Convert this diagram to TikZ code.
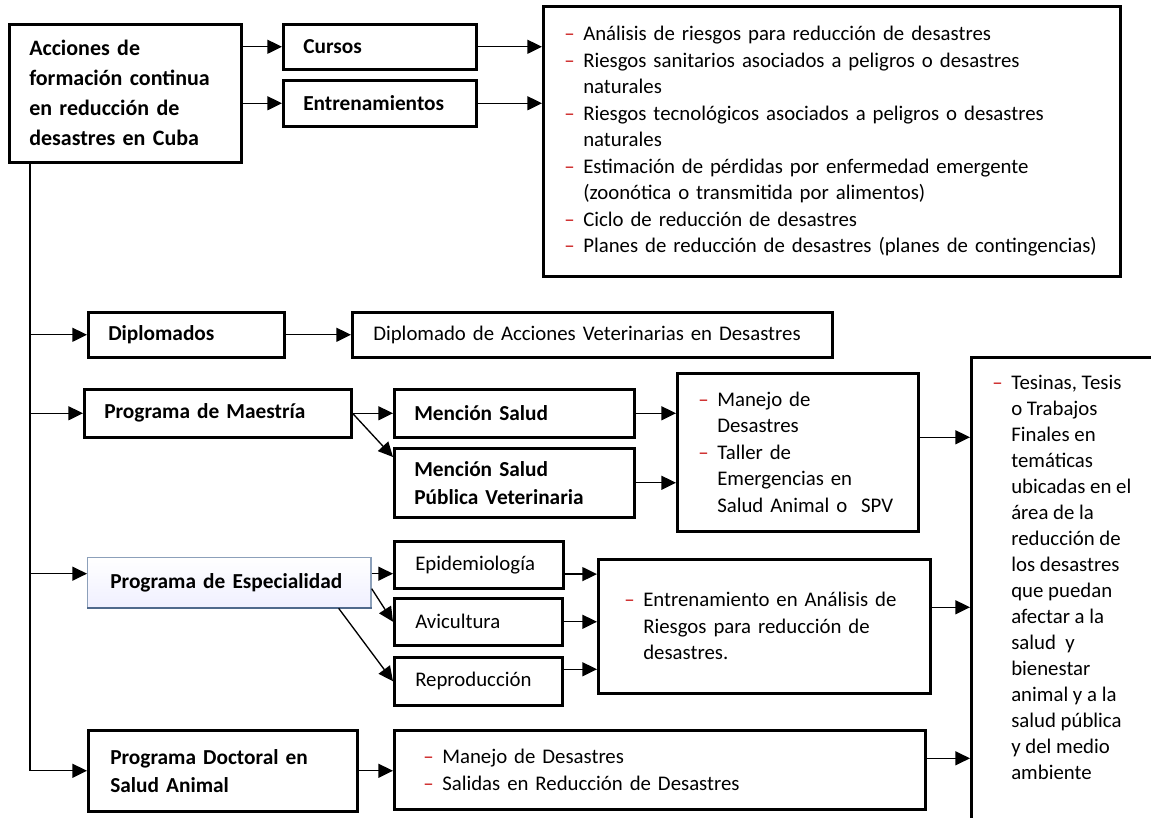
\documentclass[tikz,border=0pt]{standalone}
\usepackage{fontspec}
\setmainfont{Carlito}
\usetikzlibrary{arrows.meta}
\definecolor{guionrojo}{RGB}{200,20,20}
\definecolor{bordeazul}{RGB}{140,160,186}
\definecolor{sombraazul}{RGB}{79,105,140}
\newcommand{\guion}{\makebox[14.25pt][l]{\textcolor{guionrojo}{--}}}
\newcommand{\sigue}{\hspace*{14.25pt}}
\tikzset{
	caja/.style={draw, line width=1.9pt, anchor=north west, inner xsep=15pt, inner ysep=0pt, align=left,
		font=\fontsize{16}{21}\selectfont\bfseries},
	lista/.style={caja, inner xsep=15.75pt, font=\fontsize{15.6}{19.9}\selectfont},
	flecha/.style={-{Triangle[length=11pt,width=10.5pt]}, line width=1pt},
}
\begin{document}
\begin{tikzpicture}[x=0.75pt,y=-0.75pt]
	\useasboundingbox (0,0) rectangle (1151,817);
	% cajas
	\node[caja, minimum width=174pt, minimum height=103.5pt, text width=144pt,
		font=\fontsize{16.5}{22.5}\selectfont\bfseries] (acciones) at (8,23)
		{Acciones de\\formación continua\\en reducción de\\desastres en Cuba};
	\node[caja, minimum width=144.75pt, minimum height=33.75pt, text width=114.75pt] (cursos) at (282,23) {Cursos};
	\node[caja, minimum width=144.75pt, minimum height=34.5pt, text width=114.75pt] (entren) at (282,79) {Entrenamientos};
	\node[lista, minimum width=432.75pt, minimum height=202.5pt, text width=401.25pt] (temas) at (542,5)
		{\guion Análisis de riesgos para reducción de desastres\\
		\guion Riesgos sanitarios asociados a peligros o desastres\\\sigue naturales\\
		\guion Riesgos tecnológicos asociados a peligros o desastres\\\sigue naturales\\
		\guion Estimación de pérdidas por enfermedad emergente\\\sigue (zoonótica o transmitida por alimentos)\\
		\guion Ciclo de reducción de desastres\\
		\guion Planes de reducción de desastres (planes de contingencias)};
	\node[caja, minimum width=147pt, minimum height=33.75pt, text width=117pt] (diplo) at (87,311) {Diplomados};
	\node[lista, minimum width=360pt, minimum height=33.75pt, text width=328.5pt] (diplotema) at (351,311)
		{Diplomado de Acciones Veterinarias en Desastres};
	\node[caja, minimum width=200.25pt, minimum height=36pt, text width=170.25pt] (maestria) at (83,388) {Programa de Maestría};
	\node[caja, minimum width=180pt, minimum height=36pt, text width=150pt] (msalud) at (393,388) {Mención Salud};
	\node[caja, minimum width=180pt, minimum height=51.75pt, text width=150pt] (mspv) at (393,447) {Mención Salud\\Pública Veterinaria};
	\node[lista, minimum width=180.75pt, minimum height=118.5pt, text width=149.25pt] (manejo) at (676,372)
		{\guion Manejo de\\\sigue Desastres\\\guion Taller de\\\sigue Emergencias en\\\sigue Salud Animal o~ SPV};
	\node[draw, line width=1.9pt, anchor=north west, inner xsep=15.75pt, inner ysep=13.5pt,
		font=\fontsize{15.6}{19.5}\selectfont] (tesinas) at (970,356)
		{\begin{minipage}[t][345pt][t]{114.75pt}\raggedright
		\guion Tesinas, Tesis\\\sigue o Trabajos\\\sigue Finales en\\\sigue temáticas\\\sigue ubicadas en el\\\sigue área de la\\
		\sigue reducción de\\\sigue los desastres\\\sigue que puedan\\\sigue afectar a la\\\sigue salud~ y\\\sigue bienestar\\
		\sigue animal y a la\\\sigue salud pública\\\sigue y del medio\\\sigue ambiente\end{minipage}};
	\node[caja, draw=bordeazul, line width=1pt, top color=white, bottom color=blue!6, minimum width=208.5pt,
		minimum height=37.5pt, text width=178.5pt, inner xsep=17pt] (espec) at (87,557) {Programa de Especialidad};
	\draw[sombraazul, line width=1.6pt] (espec.south west) -- (espec.south east);
	\node[lista, minimum width=126.75pt, minimum height=35.25pt, text width=95.25pt] (epid) at (393,540) {Epidemiología};
	\node[lista, minimum width=126pt, minimum height=35.25pt, text width=94.5pt] (avic) at (393,597) {Avicultura};
	\node[lista, minimum width=126pt, minimum height=36pt, text width=94.5pt] (repro) at (393,656) {Reproducción};
	\node[lista, minimum width=240pt, minimum height=100.5pt, text width=210pt, inner xsep=19.5pt] (entrena) at (597,558)
		{\guion Entrenamiento en Análisis de\\\sigue Riesgos para reducción de\\\sigue desastres.};
	\node[caja, minimum width=198.75pt, minimum height=60.75pt, text width=168.75pt, inner xsep=16.5pt] (doct) at (87,729)
		{Programa Doctoral en\\Salud Animal};
	\node[lista, minimum width=389.25pt, minimum height=59.25pt, text width=355pt, inner xsep=21.75pt] (docttema) at (393,729)
		{\guion Manejo de Desastres\\\guion Salidas en Reducción de Desastres};
	% conectores
	\coordinate (tronco) at (30,161);
	\draw[line width=1pt] (tronco) -- (tronco |- doct.west);
	\draw[flecha] (acciones.east |- cursos.west) -- (cursos.west);
	\draw[flecha] (acciones.east |- entren.west) -- (entren.west);
	\draw[flecha] (cursos.east) -- (cursos.east -| temas.west);
	\draw[flecha] (entren.east) -- (entren.east -| temas.west);
	\draw[flecha] (tronco |- diplo.west) -- (diplo.west);
	\draw[flecha] (diplo.east) -- (diplotema.west);
	\draw[flecha] (tronco |- maestria.west) -- (maestria.west);
	\draw[flecha] (maestria.east) -- (msalud.west);
	\draw[flecha] (maestria.east) -- ([yshift=-7.5pt]mspv.north west);
	\draw[flecha] (msalud.east) -- (msalud.east -| manejo.west);
	\draw[flecha] (mspv.east) -- (mspv.east -| manejo.west);
	\draw[flecha] ([yshift=11.25pt]manejo.east) -- ([yshift=11.25pt]manejo.east -| tesinas.west);
	\draw[flecha] ([yshift=6.75pt]espec.west -| tronco) -- ([yshift=6.75pt]espec.west);
	\draw[flecha] ([yshift=6.75pt]espec.east) -- ([yshift=6.75pt]espec.east -| epid.west);
	\draw[flecha] ([yshift=-4.5pt]espec.east) -- (avic.west);
	\draw[flecha] ([xshift=-24.75pt]espec.south east) -- (repro.west);
	\draw[flecha] ([yshift=-7pt]epid.east) -- ([yshift=-7pt]epid.east -| entrena.west);
	\draw[flecha] (avic.east) -- (avic.east -| entrena.west);
	\draw[flecha] ([yshift=9pt]repro.east) -- ([yshift=9pt]repro.east -| entrena.west);
	\draw[flecha] ([yshift=14.25pt]entrena.east) -- ([yshift=14.25pt]entrena.east -| tesinas.west);
	\draw[flecha] (tronco |- doct.west) -- (doct.west);
	\draw[flecha] (doct.east) -- (doct.east -| docttema.west);
	\draw[flecha] ([yshift=8.6pt]docttema.east) -- ([yshift=8.6pt]docttema.east -| tesinas.west);
\end{tikzpicture}
\end{document}
